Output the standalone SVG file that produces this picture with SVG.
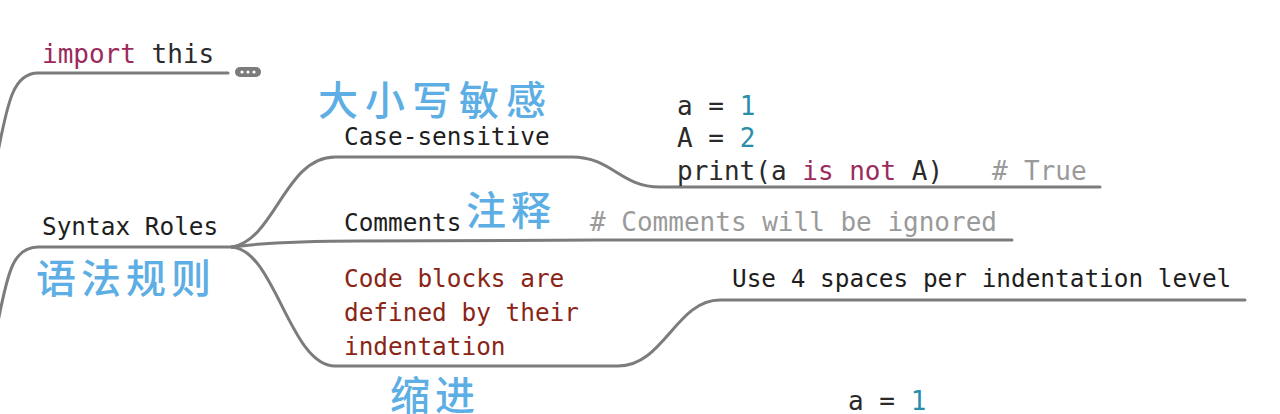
<svg xmlns="http://www.w3.org/2000/svg" width="1280" height="414" viewBox="0 0 1280 414">
<style>
.ln{fill:none;stroke:#7c7c7c;stroke-width:3;stroke-linecap:round}
.m{font-family:"DejaVu Sans Mono","Liberation Mono",monospace;font-size:24.4px;fill:#1e1e1e}
.c{font-family:"DejaVu Sans Mono","Liberation Mono",monospace;font-size:26px;fill:#2a2a2a}
.kw{fill:#9a2b5c}
.num{fill:#2a8eaa}
.cm{fill:#9a9a9a}
.red{fill:#8a2516}
.zh{font-family:"Noto Sans CJK SC",sans-serif;font-size:40px;fill:#5daee4;font-weight:500}
</style>
<rect width="1280" height="414" fill="#ffffff"/>
<g id="connectors">
<path class="ln" d="M-2,152 C8,100 14,73 38,73 H228"/>
<path class="ln" d="M-2,322 C8,270 14,247 38,247 H232"/>
<path class="ln" d="M232,247 C275,240 285,157 335,157 H572 C612,157 620,187 660,187 H1100"/>
<path class="ln" d="M232,247 C262,243 300,241 360,241 L600,240 H1012"/>
<path class="ln" d="M232,247 C275,250 290,366 335,366 H618 C664,366 676,300 720,300 H1245"/>
</g>
<g id="import-this">
<text class="c" x="42" y="63"><tspan class="kw">import</tspan> this</text>
<rect x="235" y="67" width="26" height="10" rx="5" fill="#7c7c7c"/>
<circle cx="242" cy="72" r="1.6" fill="#fff"/>
<circle cx="248" cy="72" r="1.6" fill="#fff"/>
<circle cx="254" cy="72" r="1.6" fill="#fff"/>
</g>
<g id="syntax-roles">
<text class="m" x="42" y="235">Syntax Roles</text>
<text class="zh" x="36" y="293" font-size="42" letter-spacing="5">语法规则</text>
</g>
<g id="case-sensitive">
<text class="zh" x="318" y="115" letter-spacing="7">大小写敏感</text>
<text class="m" x="344" y="145">Case-sensitive</text>
</g>
<g id="case-code">
<text class="c" x="677" y="115">a = <tspan class="num">1</tspan></text>
<text class="c" x="677" y="147">A = <tspan class="num">2</tspan></text>
<text class="c" x="677" y="180">print(a <tspan class="kw">is not</tspan> A)<tspan class="cm" x="992">#</tspan><tspan class="cm" x="1024">True</tspan></text>
</g>
<g id="comments">
<text class="m" x="344" y="231">Comments</text>
<text class="zh" x="466" y="225" letter-spacing="5">注释</text>
</g>
<g id="comments-code">
<text class="c cm" x="590" y="231"># Comments will be ignored</text>
</g>
<g id="code-blocks">
<text class="m red" x="344" y="287">Code blocks are</text>
<text class="m red" x="344" y="321">defined by their</text>
<text class="m red" x="344" y="355">indentation</text>
<text class="zh" x="390" y="410" letter-spacing="5">缩进</text>
</g>
<g id="indent-rule">
<text class="m" x="732" y="287">Use 4 spaces per indentation level</text>
</g>
<g id="indent-code">
<text class="c" x="848" y="410">a = <tspan class="num">1</tspan></text>
</g>
</svg>
